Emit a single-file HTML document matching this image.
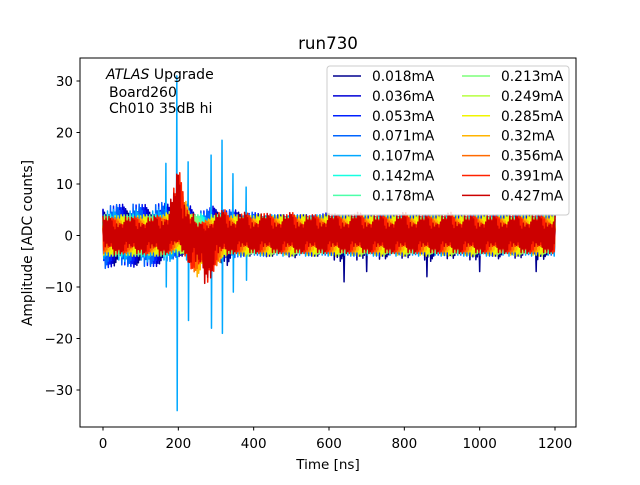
<!DOCTYPE html>
<html><head><meta charset="utf-8"><style>
body{margin:0;background:#fff}
svg{font-family:"DejaVu Sans","Liberation Sans",sans-serif}
</style></head><body>
<svg id="c" width="640" height="480" viewBox="0 0 640 480">
<rect width="640" height="480" fill="#fff"/>
<g id="plot"></g>
<rect x="80" y="58" width="496" height="369" fill="none" stroke="#000" stroke-width="1"/>
<g id="axes"></g>
<text x="328" y="49" text-anchor="middle" font-size="16.7">run730</text>
<text x="328" y="469" text-anchor="middle" font-size="13.5">Time [ns]</text>
<text transform="translate(32,243) rotate(-90)" text-anchor="middle" font-size="13.8">Amplitude [ADC counts]</text>
<g font-size="14">
<text x="106" y="79"><tspan font-style="italic">ATLAS</tspan> Upgrade</text>
<text x="109" y="97">Board260</text>
<text x="109" y="113">Ch010 35dB hi</text>
</g>
<g id="legend"></g>
</svg>
<script>
const labels=["0.018mA","0.036mA","0.053mA","0.071mA","0.107mA","0.142mA","0.178mA","0.213mA","0.249mA","0.285mA","0.32mA","0.356mA","0.391mA","0.427mA"];
const colors=["#00008f","#0000d6","#0020ff","#0064ff","#00a8ff","#16ffe1","#4dffaa","#7dff7a","#b7ff40","#f0f500","#ffb400","#ff6a00","#ff2200","#cc0000"];
const envKey=["navy","blue","blue","blue","lblue","green","green","green","yellow","yellow","orange","orange","red","red"];
const times=[0,25,50,75,100,125,150,175,200,225,250,275,300,325,350,375,400,425,450,475,500,525,550,575,600,625,650,675,700,725,750,775,800,825,850,875,900,925,950,975,1000,1025,1050,1075,1100,1125,1150,1175,1200];
const navyHi=[5,5,5,5.5,5,5,5,5,5,4.5,4.5,4.5,5,5,4.5,4.5,4,4,4,4,4,4,4,4,4,4,4,4,4,4,4,4,4,4,4,4,4,4,4,4,4,4,4,4,4,4,4,4,4];
const navyLo=[-6,-6,-5.5,-5.5,-6,-5,-5.5,-5,-4,-4,-5,-5,-5,-6,-5,-4,-4,-4.5,-4,-4,-4.5,-4,-4,-4,-5,-5,-5,-5,-4,-5,-4.5,-5,-4.5,-4,-5,-5,-5,-4.5,-4,-5,-4.5,-4,-4.5,-5,-4.5,-4,-5,-4.5,-6];
const blueHi=[6.5,6,6,6.5,6,6,6.5,6,7,6,5,5,6,5,5,4.5,4.5,4,4,4,4,4,4,4,4.5,4,4,4,4,4,4,4,4,4,4,4,4,4,4,4,4,4,4,4,4,4,4,4,4];
const blueLo=[-6.5,-6,-6,-6,-6.5,-6,-6,-5,-4,-5,-5,-5,-5,-4.5,-4.5,-4,-4,-4,-4,-3.5,-4,-3.5,-4,-4,-4,-3.5,-4,-4,-3.5,-4,-4,-3.5,-4,-4,-3.5,-4,-4,-3.5,-4,-4,-3.5,-4,-4,-3.5,-4,-4,-3.5,-4,-4];
const lblueHi=[5,5,5,5,5,5,5,5,6,5,4,4,5,4,4,4,4,4,4,4,4,4,4,4,4,4,4,4,4,4,4,4,4,4,4,4,4,4,4,4,4,4,4,4,4,4,4,4,4];
const lblueLo=[-5,-5,-5,-5,-5,-5,-5,-5,-5,-5,-5,-5,-5,-4,-4,-4,-4,-4,-4,-4,-4,-4,-4,-4,-4,-4,-4,-4,-4,-4,-4,-4,-4,-4,-4,-4,-4,-4,-4,-4,-4,-4,-4,-4,-4,-4,-4,-4,-4];
const greenHi=[4,4,4,4,4,4,4,4,5,4,4,4.5,4,4,3.5,3.5,3.5,3.5,3.5,3.5,3.5,3.5,3.5,3.5,3.5,3.5,3.5,3.5,3.5,3.5,3.5,3.5,3.5,3.5,3.5,3.5,3.5,3.5,3.5,3.5,3.5,3.5,3.5,3.5,3.5,3.5,3.5,3.5,3.5];
const greenLo=[-4,-4,-4,-4,-4,-4,-4,-4,-4,-3,-1,-2,-3,-3.5,-3.5,-3.5,-3.5,-3.5,-3.5,-3.5,-3.5,-3.5,-3.5,-3.5,-3.5,-3.5,-3.5,-3.5,-3.5,-3.5,-3.5,-3.5,-3.5,-3.5,-3.5,-3.5,-3.5,-3.5,-3.5,-3.5,-3.5,-3.5,-3.5,-3.5,-3.5,-3.5,-3.5,-3.5,-3.5];
const yellowHi=[4,4,4,4,4,4,4,4.5,7,5,3,3,4,4,4,4,4,4,4,4,4,4,4,4,4,4,4,4,4,4,4,4,4,4,4,4,4,4,4,4,4,4,4,4,4,4,4,4,4];
const yellowLo=[-4,-4,-4,-4,-4,-4,-4,-4,-3,-5,-6,-6,-4.5,-4,-4,-4,-4,-4,-4,-4,-4,-4,-4,-4,-4,-4,-4,-4,-4,-4,-4,-4,-4,-4,-4,-4,-4,-4,-4,-4,-4,-4,-4,-4,-4,-4,-4,-4,-4];
const orangeHi=[3.5,3.5,3.5,3.5,3.5,3.5,3.5,4.5,9,6,2.5,3,4,4,3.5,3.5,3.5,3.5,3.5,3.5,3.5,3.5,3.5,3.5,3.5,3.5,3.5,3.5,3.5,3.5,3.5,3.5,3.5,3.5,3.5,3.5,3.5,3.5,3.5,3.5,3.5,3.5,3.5,3.5,3.5,3.5,3.5,3.5,3.5];
const orangeLo=[-3.5,-3.5,-3.5,-3.5,-3.5,-3.5,-3.5,-3.5,-2.5,-5,-8,-9,-6,-4,-3.5,-3.5,-3.5,-3.5,-3.5,-3.5,-3.5,-3.5,-3.5,-3.5,-3.5,-3.5,-3.5,-3.5,-3.5,-3.5,-3.5,-3.5,-3.5,-3.5,-3.5,-3.5,-3.5,-3.5,-3.5,-3.5,-3.5,-3.5,-3.5,-3.5,-3.5,-3.5,-3.5,-3.5,-3.5];
const redHi=[4,3.5,4,3.5,4,3.5,4,6,13,8,2,3,4.5,5,4,4.5,4,4.5,4,4,4.5,4,4,4,4.5,4,4,4.5,4,4,4,4,4.5,4,4,4,4,4.5,4,4,4,4,4,4,4,4,4,4,4];
const redLo=[-3.5,-4,-3.5,-4,-3.5,-4,-4,-3.5,-2,-5,-9,-10,-6,-4,-3.5,-3.5,-3.5,-3.5,-3.5,-3.5,-3.5,-3.5,-3.5,-3.5,-3.5,-3.5,-3.5,-3.5,-3.5,-3.5,-3.5,-3.5,-3.5,-3.5,-3.5,-3.5,-3.5,-3.5,-3.5,-3.5,-3.5,-3.5,-3.5,-3.5,-3.5,-3.5,-3.5,-3.5,-3.5];
const texture=[1,0.55,0.9,0.35,0.8,0.65,0.45,0.95,0.3,0.75,0.6,0.85,0.4,0.7,0.5];
const spikeTimes=[167,196,226,287,316,345,380];
const spikeUp=[14,31,14.3,15.6,18.5,12,9.4];
const spikeDown=[-10,-34,-16.5,-18,-19,-11,-8.7];
const navySpikeTimes=[640,700,860,1000,1150];
const navySpikeVals=[-9,-7,-8,-7,-7];
const xTicks=[0,200,400,600,800,1000,1200];
const yTicks=[-30,-20,-10,0,10,20,30];
const envs={navy:[navyHi,navyLo],blue:[blueHi,blueLo],lblue:[lblueHi,lblueLo],green:[greenHi,greenLo],yellow:[yellowHi,yellowLo],orange:[orangeHi,orangeLo],red:[redHi,redLo]};

const X=t=>103+t*(452/1200);
const Y=v=>235.5-v*(309/60);
const NS="http://www.w3.org/2000/svg";
const plot=document.getElementById('plot');
function interp(arr,t){const i=Math.min(Math.floor(t/25),times.length-2);const f=(t-times[i])/25;return arr[i]*(1-f)+arr[i+1]*f;}
function addLine(pts,c,name){
  const pl=document.createElementNS(NS,'polyline');
  pl.setAttribute('points',pts);
  pl.setAttribute('fill','none');
  pl.setAttribute('stroke',c);
  pl.setAttribute('stroke-width','1.5');
  pl.setAttribute('stroke-linejoin','round');
  
  
  plot.appendChild(pl);
}
colors.forEach((c,k)=>{
  const [hi,lo]=envs[envKey[k]];
  const off=k*4;
  let pts=[];
  for(let t=0,j=0;t<=1200;t+=2,j++){
    const w=texture[(j+off)%texture.length];
    const v=(j%2===0)?interp(hi,t)*w:interp(lo,t)*w;
    pts.push(X(t).toFixed(1)+","+Y(v).toFixed(1));
  }
  addLine(pts.join(' '),c,'series-'+labels[k].replace('.','p'));
  if(k===0){
    navySpikeTimes.forEach((st,i)=>addLine(X(st-2)+","+Y(0)+" "+X(st)+","+Y(navySpikeVals[i])+" "+X(st+2)+","+Y(0),c,'navy-spike'));
  }
  if(k===4){
    spikeTimes.forEach((st,i)=>addLine(X(st-1)+","+Y(0)+" "+X(st)+","+Y(spikeUp[i])+" "+X(st+1)+","+Y(spikeDown[i])+" "+X(st+2)+","+Y(0),c,'spike'));
  }
});
const axes=document.getElementById('axes');
xTicks.forEach(t=>{
  const l=document.createElementNS(NS,'line');
  l.setAttribute('x1',X(t));l.setAttribute('x2',X(t));l.setAttribute('y1',427);l.setAttribute('y2',430.5);l.setAttribute('stroke','#000');
  
  
  axes.appendChild(l);
  const tx=document.createElementNS(NS,'text');
  tx.setAttribute('x',X(t));tx.setAttribute('y',448);tx.setAttribute('text-anchor','middle');tx.setAttribute('font-size','13.5');
  tx.textContent=t;
  
  
  axes.appendChild(tx);
});
yTicks.forEach(v=>{
  const l=document.createElementNS(NS,'line');
  l.setAttribute('x1',76.5);l.setAttribute('x2',80);l.setAttribute('y1',Y(v));l.setAttribute('y2',Y(v));l.setAttribute('stroke','#000');
  
  
  axes.appendChild(l);
  const tx=document.createElementNS(NS,'text');
  tx.setAttribute('x',73);tx.setAttribute('y',Y(v)+5);tx.setAttribute('text-anchor','end');tx.setAttribute('font-size','13.5');
  tx.textContent=v<0?'\u2212'+(-v):v;
  
  
  axes.appendChild(tx);
});
const lg=document.getElementById('legend');
const box=document.createElementNS(NS,'rect');
box.setAttribute('x',327);box.setAttribute('y',66);box.setAttribute('width',242);box.setAttribute('height',149);box.setAttribute('rx',3);
box.setAttribute('fill','rgba(255,255,255,0.8)');box.setAttribute('stroke','#ccc');


lg.appendChild(box);
labels.forEach((lb,k)=>{
  const col=k<7?0:1,row=k%7;
  const x0=col?462:333,y0=76+row*19.9;
  const l=document.createElementNS(NS,'line');
  l.setAttribute('x1',x0);l.setAttribute('x2',x0+28);l.setAttribute('y1',y0);l.setAttribute('y2',y0);l.setAttribute('stroke',colors[k]);l.setAttribute('stroke-width','1.5');
  
  
  lg.appendChild(l);
  const tx=document.createElementNS(NS,'text');
  tx.setAttribute('x',x0+39);tx.setAttribute('y',y0+5);tx.setAttribute('font-size','13.8');
  tx.textContent=lb;
  
  
  lg.appendChild(tx);
});
</script>
</body></html>
